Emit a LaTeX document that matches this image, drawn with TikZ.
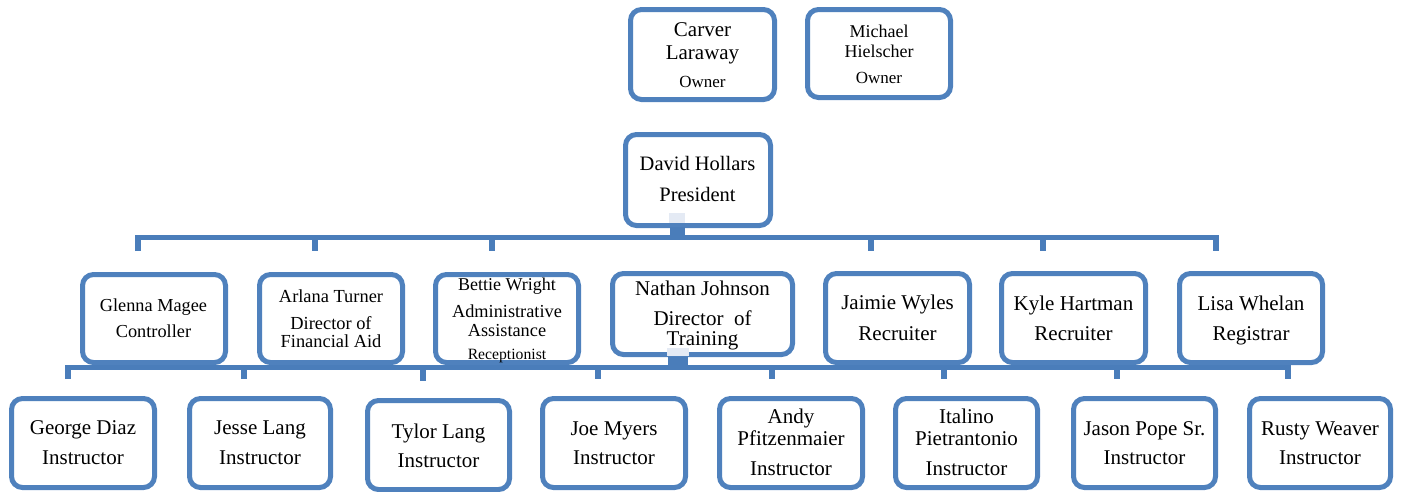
\documentclass[tikz,border=0pt]{standalone}
\usepackage{fontspec}
\setmainfont{Liberation Serif}
\definecolor{boxblue}{HTML}{4F81BD}
\definecolor{linkblue}{HTML}{4A7DBA}
\definecolor{paleblue}{HTML}{E4EAF4}
\newcommand\orgbox[5]{\node[box, minimum width=#4pt, minimum height=#5pt] (#1) at (#2,#3) {};}
\newcommand\tline[5]{\node[lbl, font=\fontsize{#1pt}{#1pt}\selectfont] (#2) at (#3,#4) {#5};}
\begin{document}
\begin{tikzpicture}[x=1pt,y=-1pt,
  box/.style={draw=boxblue, line width=5pt, rounded corners=11pt, fill=white, inner sep=0pt},
  link/.style={draw=linkblue, line width=5.5pt, line join=miter},
  lbl/.style={anchor=base, inner sep=0pt, text=black}]
\useasboundingbox (0,0) rectangle (1401,491);

% ---- connectors (buses) ----
\coordinate (busTopL) at (138,237.5);
\coordinate (busTopR) at (1216,237.5);
\coordinate (busBotL) at (68,367.5);
\coordinate (busBotR) at (1288,367.5);
\draw[link] (138,251) -- (busTopL) -- (busTopR) -- (1216,251);
\foreach \x in {315,492,871,1043} \draw[link] (\x,237.5) -- (\x,251);
\draw[link] (68,379) -- (busBotL) -- (busBotR) -- (1288,379);
\foreach \x in {244,598,772,944,1117} \draw[link] (\x,367.5) -- (\x,379);
\draw[link] (423,367.5) -- (423,381);

% ---- boxes ----
\orgbox{carver}{702.5}{54.5}{144}{90}
\orgbox{michael}{879}{53.5}{143}{88}
\orgbox{david}{698}{180}{145}{91}

\orgbox{glenna}{154}{318.5}{143}{88}
\orgbox{arlana}{331}{318.5}{143}{88}
\orgbox{bettie}{507}{318.5}{143}{88}
\orgbox{nathan}{702.5}{314}{180}{81}
\orgbox{jaimie}{897.5}{318}{144}{89}
\orgbox{kyle}{1073.5}{318}{144}{89}
\orgbox{lisa}{1251}{318}{143}{89}

\orgbox{george}{83}{443}{143}{89}
\orgbox{jesse}{260}{443}{141}{89}
\orgbox{tylor}{438.5}{445}{142}{89}
\orgbox{joe}{614}{443}{143}{89}
\orgbox{andy}{791}{443}{143}{89}
\orgbox{italino}{966.5}{443}{142}{89}
\orgbox{jason}{1144.5}{443}{142}{89}
\orgbox{rusty}{1320}{443}{141}{89}

% ---- stubs from David and Nathan ----
\fill[paleblue] (669,213) rectangle (685,223);
\draw[link, line width=15pt] (677.5,227) -- (busTopL -| 677.5,0);
\fill[paleblue] (667,348) rectangle (689,356);
\draw[link, line width=20pt] (678,357) -- (busBotL -| 678,0);

% ---- texts ----
\tline{21}{carverA}{702.5}{36.7}{Carver}
\tline{21}{carverB}{702.5}{59}{Laraway}
\tline{17}{carverC}{702.5}{87}{Owner}
\tline{18}{michaelA}{879}{37.7}{Michael}
\tline{18}{michaelB}{879}{57}{Hielscher}
\tline{17}{michaelC}{879}{83}{Owner}
\tline{20.5}{davidA}{697.5}{170.5}{David Hollars}
\tline{20.5}{davidB}{697.5}{201}{President}

\tline{18.3}{glennaA}{153.5}{311}{Glenna Magee}
\tline{18.3}{glennaB}{153.5}{337.7}{Controller}
\tline{18.4}{arlanaA}{331}{302}{Arlana Turner}
\tline{18.4}{arlanaB}{331}{329}{Director of}
\tline{18.4}{arlanaC}{331}{347}{Financial Aid}
\tline{18}{bettieA}{507}{290}{Bettie Wright}
\tline{18.3}{bettieB}{507}{317}{Administrative}
\tline{18.3}{bettieC}{507}{336}{Assistance}
\tline{15.7}{bettieD}{507}{359}{Receptionist}
\tline{21}{nathanA}{702.5}{295}{Nathan Johnson}
\tline{21}{nathanB}{702.5}{325}{Director\ \ of}
\tline{21}{nathanC}{702.5}{345.7}{Training}
\tline{21}{jaimieA}{897.5}{309}{Jaimie Wyles}
\tline{21}{jaimieB}{897.5}{340}{Recruiter}
\tline{21}{kyleA}{1073.5}{310}{Kyle Hartman}
\tline{21}{kyleB}{1073.5}{340.7}{Recruiter}
\tline{21}{lisaA}{1251}{310}{Lisa Whelan}
\tline{21}{lisaB}{1251}{340.7}{Registrar}

\tline{21}{georgeA}{83}{434}{George Diaz}
\tline{21}{georgeB}{83}{464.3}{Instructor}
\tline{21}{jesseA}{260}{434}{Jesse Lang}
\tline{21}{jesseB}{260}{464.3}{Instructor}
\tline{21}{tylorA}{438.5}{438}{Tylor Lang}
\tline{21}{tylorB}{438.5}{467}{Instructor}
\tline{21}{joeA}{614}{435}{Joe Myers}
\tline{21}{joeB}{614}{464}{Instructor}
\tline{21}{andyA}{791}{423}{Andy}
\tline{21}{andyB}{791}{445}{Pfitzenmaier}
\tline{21}{andyC}{791}{475.7}{Instructor}
\tline{21}{italinoA}{966.5}{423}{Italino}
\tline{21}{italinoB}{966.5}{445}{Pietrantonio}
\tline{21}{italinoC}{966.5}{475.7}{Instructor}
\tline{21}{jasonA}{1144.5}{435}{Jason Pope Sr.}
\tline{21}{jasonB}{1144.5}{464}{Instructor}
\tline{21}{rustyA}{1320}{435}{Rusty Weaver}
\tline{21}{rustyB}{1320}{464}{Instructor}
\end{tikzpicture}
\end{document}
